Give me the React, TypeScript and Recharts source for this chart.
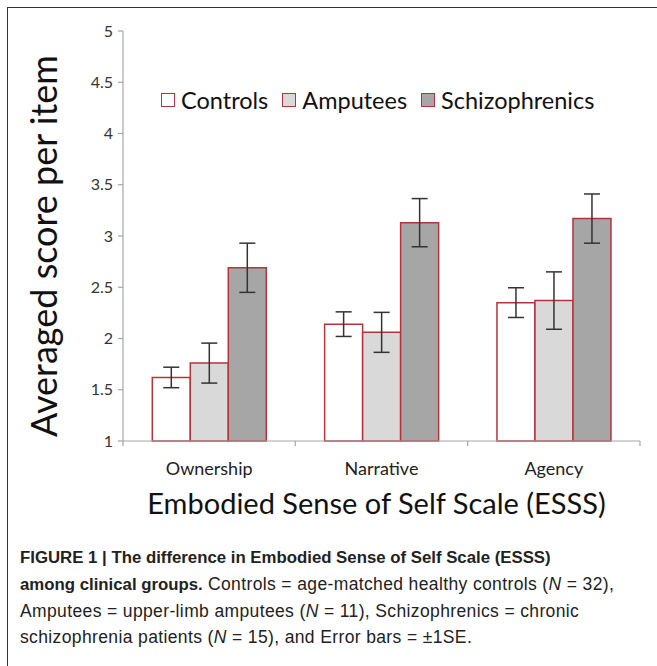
import React from 'react';
import { BarChart, Bar, XAxis, YAxis, ErrorBar, Legend } from 'recharts';

const categories = ['Ownership', 'Narrative', 'Agency'];
const controls = [1.62, 2.14, 2.35];
const controlsErr = [0.1, 0.12, 0.145];
const amputees = [1.76, 2.06, 2.37];
const amputeesErr = [0.195, 0.195, 0.28];
const schizophrenics = [2.69, 3.13, 3.17];
const schizophrenicsErr = [0.24, 0.235, 0.24];
const seriesOrder = ['Controls', 'Amputees', 'Schizophrenics'];
const yTicks = [1, 1.5, 2, 2.5, 3, 3.5, 4, 4.5, 5];

const data = categories.map((name, i) => ({
  name,
  Controls: controls[i],
  ControlsErr: controlsErr[i],
  Amputees: amputees[i],
  AmputeesErr: amputeesErr[i],
  Schizophrenics: schizophrenics[i],
  SchizophrenicsErr: schizophrenicsErr[i],
}));

const RED = '#b3353c';
const AXIS = '#a6a6a6';
const FONT = 'Lato, "Open Sans", sans-serif';
const TICK_MARGIN = 21;

const CategoryTick = (props: any) => {
  const { x, y, payload, index, width } = props;
  const half =
    payload && typeof payload.offset === 'number' && payload.offset > 0
      ? payload.offset
      : (width || 517) / (categories.length * 2);
  const axisY = y - TICK_MARGIN;
  const isLast = index === categories.length - 1;
  return (
    <g>
      <line x1={x - half} x2={x - half} y1={axisY} y2={axisY + 5} stroke={AXIS} strokeWidth={1.2} />
      {isLast && <line x1={x + half} x2={x + half} y1={axisY} y2={axisY + 5} stroke={AXIS} strokeWidth={1.2} />}
      <text x={x} y={y} dy="0.71em" textAnchor="middle" fontFamily={FONT} fontSize={18} fill="#222">
        {payload.value}
      </text>
    </g>
  );
};

const LegendContent = (props: any) => {
  const payload = [...(props.payload || [])].sort(
    (a: any, b: any) => seriesOrder.indexOf(a.value) - seriesOrder.indexOf(b.value)
  );
  return (
    <div style={{ display: 'flex', alignItems: 'center', fontFamily: FONT, fontSize: 23.5, color: '#111', whiteSpace: 'nowrap' }}>
      {payload.map((p: any) => (
        <div key={p.value} style={{ display: 'flex', alignItems: 'center', marginRight: 14 }}>
          <span
            style={{
              display: 'inline-block',
              width: 12,
              height: 12,
              background: p.payload?.fill || p.color,
              border: `1px solid ${RED}`,
              marginRight: 6,
            }}
          />
          <span>{p.value}</span>
        </div>
      ))}
    </div>
  );
};

export default function App() {
  return (
    <div style={{ position: 'absolute', left: 0, top: 0, width: 657, height: 666, background: '#fff', overflow: 'hidden' }}>
      <div style={{ position: 'absolute', left: 7, top: 7, right: 0, bottom: 0, borderLeft: '1px solid #333', borderTop: '1px solid #333' }} />
      <div style={{ position: 'absolute', left: 0, top: 0 }}>
        <BarChart
          width={657}
          height={530}
          data={data}
          margin={{ top: 31, right: 17, bottom: 0, left: 0 }}
          barCategoryGap="17%"
          barGap={0}
        >
          <XAxis
            dataKey="name"
            height={89}
            interval={0}
            axisLine={{ stroke: AXIS, strokeWidth: 1.2 }}
            tickLine={false}
            tickSize={0}
            tickMargin={TICK_MARGIN}
            tick={<CategoryTick />}
            label={{
              value: 'Embodied Sense of Self Scale (ESSS)',
              position: 'insideBottom',
              offset: 16,
              dx: -5,
              style: { fontFamily: FONT, fontSize: 29, fill: '#111' },
            }}
          />
          <YAxis
            type="number"
            domain={[1, 5]}
            ticks={yTicks}
            width={123}
            interval={0}
            tickSize={5}
            tickMargin={5}
            axisLine={{ stroke: AXIS, strokeWidth: 1.2 }}
            tickLine={{ stroke: AXIS, strokeWidth: 1.2 }}
            tick={{ fontFamily: FONT, fontSize: 16, fill: '#333' }}
            label={{
              value: 'Averaged score per item',
              angle: -90,
              position: 'insideLeft',
              offset: 44,
              dy: 10,
              style: { fontFamily: FONT, fontSize: 36, fill: '#111', textAnchor: 'middle' },
            }}
          />
          <Legend
            layout="horizontal"
            verticalAlign="middle"
            align="center"
            content={<LegendContent />}
            wrapperStyle={{ position: 'absolute', top: 86, left: 161, width: 'auto', height: 'auto' }}
          />
          <Bar dataKey="Controls" fill="#ffffff" stroke={RED} strokeWidth={1.5} isAnimationActive={false}>
            <ErrorBar dataKey="ControlsErr" width={8} stroke="#333" strokeWidth={1.5} />
          </Bar>
          <Bar dataKey="Amputees" fill="#d9d9d9" stroke={RED} strokeWidth={1.5} isAnimationActive={false}>
            <ErrorBar dataKey="AmputeesErr" width={8} stroke="#333" strokeWidth={1.5} />
          </Bar>
          <Bar dataKey="Schizophrenics" fill="#a6a6a6" stroke={RED} strokeWidth={1.5} isAnimationActive={false}>
            <ErrorBar dataKey="SchizophrenicsErr" width={8} stroke="#333" strokeWidth={1.5} />
          </Bar>
        </BarChart>
      </div>
      <div
        style={{
          position: 'absolute',
          left: 20,
          top: 545,
          fontFamily: '"Liberation Sans", Arial, sans-serif',
          fontSize: 17.5,
          lineHeight: '26px',
          color: '#222',
          letterSpacing: 0.37,
          whiteSpace: 'nowrap',
        }}
      >
        <div style={{ fontWeight: 'bold', fontSize: 16.8, letterSpacing: 0 }}>
          FIGURE 1 | The difference in Embodied Sense of Self Scale (ESSS)
        </div>
        <div>
          <b style={{ letterSpacing: 0, fontSize: 16.8 }}>among clinical groups.</b> Controls = age-matched healthy controls (<i>N</i> = 32),
        </div>
        <div>
          Amputees = upper-limb amputees (<i>N</i> = 11), Schizophrenics = chronic
        </div>
        <div>
          schizophrenia patients (<i>N</i> = 15), and Error bars = ±1SE.
        </div>
      </div>
    </div>
  );
}
